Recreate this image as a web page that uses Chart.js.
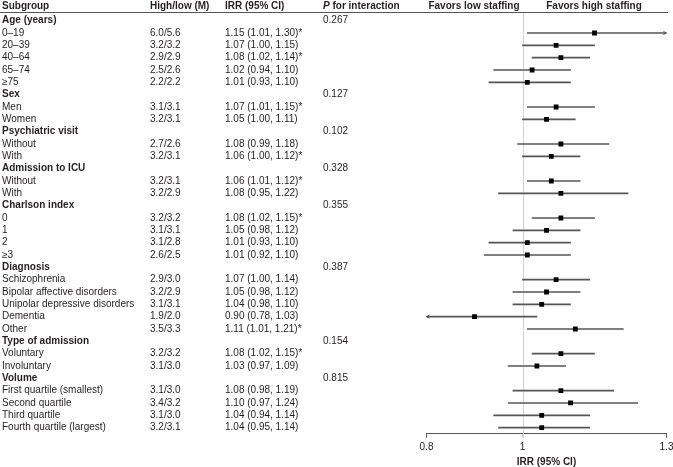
<!DOCTYPE html>
<html>
<head>
<meta charset="utf-8">
<script src="https://cdn.jsdelivr.net/npm/chart.js@4/dist/chart.umd.min.js"></script>
<style>
  html, body { margin: 0; padding: 0; background: #fff; }
  #wrap { width: 673px; height: 467px; }
</style>
</head>
<body>
<div id="wrap"><canvas id="c" width="673" height="467"></canvas></div>
<script>
// ---------- DATA ----------
const subgroups = [
  'Age (years)', '0–19', '20–39', '40–64', '65–74', '≥75',
  'Sex', 'Men', 'Women',
  'Psychiatric visit', 'Without', 'With',
  'Admission to ICU', 'Without', 'With',
  'Charlson index', '0', '1', '2', '≥3',
  'Diagnosis', 'Schizophrenia', 'Bipolar affective disorders', 'Unipolar depressive disorders', 'Dementia', 'Other',
  'Type of admission', 'Voluntary', 'Involuntary',
  'Volume', 'First quartile (smallest)', 'Second quartile', 'Third quartile', 'Fourth quartile (largest)'
];
const isGroupHeader = [
  true, false, false, false, false, false,
  true, false, false,
  true, false, false,
  true, false, false,
  true, false, false, false, false,
  true, false, false, false, false, false,
  true, false, false,
  true, false, false, false, false
];
const highLow = [
  '', '6.0/5.6', '3.2/3.2', '2.9/2.9', '2.5/2.6', '2.2/2.2',
  '', '3.1/3.1', '3.2/3.1',
  '', '2.7/2.6', '3.2/3.1',
  '', '3.2/3.1', '3.2/2.9',
  '', '3.2/3.2', '3.1/3.1', '3.1/2.8', '2.6/2.5',
  '', '2.9/3.0', '3.2/2.9', '3.1/3.1', '1.9/2.0', '3.5/3.3',
  '', '3.2/3.2', '3.1/3.0',
  '', '3.1/3.0', '3.4/3.2', '3.1/3.0', '3.2/3.1'
];
const irr = [
  null, 1.15, 1.07, 1.08, 1.02, 1.01,
  null, 1.07, 1.05,
  null, 1.08, 1.06,
  null, 1.06, 1.08,
  null, 1.08, 1.05, 1.01, 1.01,
  null, 1.07, 1.05, 1.04, 0.90, 1.11,
  null, 1.08, 1.03,
  null, 1.08, 1.10, 1.04, 1.04
];
const ciLower = [
  null, 1.01, 1.00, 1.02, 0.94, 0.93,
  null, 1.01, 1.00,
  null, 0.99, 1.00,
  null, 1.01, 0.95,
  null, 1.02, 0.98, 0.93, 0.92,
  null, 1.00, 0.98, 0.98, 0.78, 1.01,
  null, 1.02, 0.97,
  null, 0.98, 0.97, 0.94, 0.95
];
const ciUpper = [
  null, 1.30, 1.15, 1.14, 1.10, 1.10,
  null, 1.15, 1.11,
  null, 1.18, 1.12,
  null, 1.12, 1.22,
  null, 1.15, 1.12, 1.10, 1.10,
  null, 1.14, 1.12, 1.10, 1.03, 1.21,
  null, 1.15, 1.09,
  null, 1.19, 1.24, 1.14, 1.14
];
const significant = [
  false, true, false, true, false, false,
  false, true, false,
  false, false, true,
  false, true, false,
  false, true, false, false, false,
  false, false, false, false, false, true,
  false, true, false,
  false, false, false, false, false
];
const pInteraction = [
  '0.267', '', '', '', '', '',
  '0.127', '', '',
  '0.102', '', '',
  '0.328', '', '',
  '0.355', '', '', '', '',
  '0.387', '', '', '', '', '',
  '0.154', '', '',
  '0.815', '', '', '', ''
];
const xTicks = [0.8, 1, 1.3];
const xMin = 0.8, xMax = 1.3;
const headers = ['Subgroup', 'High/low (M)', 'IRR (95% CI)', 'for interaction', 'Favors low staffing', 'Favors high staffing'];
const axisTitle = 'IRR (95% CI)';

// ---------- DRAW ----------
const FONT = '"Liberation Sans", Arial, Helvetica, sans-serif';
const TXT = '#231f20';
const LINE = '#555555';

const fmt = v => v.toFixed(2);
const irrText = irr.map((v, i) => v == null ? '' :
  `${fmt(v)} (${fmt(ciLower[i])}, ${fmt(ciUpper[i])})` + (significant[i] ? '*' : ''));

const tablePlugin = {
  id: 'tablePlugin',
  afterDraw(chart) {
    const ctx = chart.ctx;
    const ys = chart.scales.y;
    const xs = chart.scales.x;
    ctx.save();
    // header line
    ctx.strokeStyle = LINE;
    ctx.lineWidth = 1;
    ctx.beginPath();
    ctx.moveTo(0, 12.5);
    ctx.lineTo(668, 12.5);
    ctx.stroke();

    // header texts
    ctx.fillStyle = TXT;
    ctx.textBaseline = 'middle';
    ctx.textAlign = 'left';
    const hy = 6.5;
    ctx.font = `bold 10px ${FONT}`;
    ctx.fillText(headers[0], 2, hy);
    ctx.fillText(headers[1], 150, hy);
    ctx.fillText(headers[2], 225, hy);
    ctx.font = `italic bold 10px ${FONT}`;
    ctx.fillText('P', 323, hy);
    const pw = ctx.measureText('P ').width;
    ctx.font = `bold 10px ${FONT}`;
    ctx.fillText(headers[3], 323 + pw, hy);
    ctx.textAlign = 'center';
    ctx.fillText(headers[4], 474, hy);
    ctx.fillText(headers[5], 594, hy);

    // rows
    ctx.textAlign = 'left';
    subgroups.forEach((s, i) => {
      const y = ys.getPixelForValue(i);
      ctx.font = (isGroupHeader[i] ? 'bold ' : '') + `10px ${FONT}`;
      ctx.fillText(s, 2, y);
      ctx.font = `10px ${FONT}`;
      if (highLow[i]) ctx.fillText(highLow[i], 150, y);
      if (irrText[i]) ctx.fillText(irrText[i], 225, y);
      if (pInteraction[i]) ctx.fillText(pInteraction[i], 323, y);
    });

    // arrows for truncated CIs
    ctx.strokeStyle = LINE;
    ctx.lineWidth = 1;
    subgroups.forEach((s, i) => {
      if (irr[i] == null) return;
      const y = ys.getPixelForValue(i);
      if (ciUpper[i] >= xMax) {
        const x = xs.getPixelForValue(xMax);
        ctx.beginPath();
        ctx.moveTo(x - 3, y - 1.5); ctx.lineTo(x, y); ctx.lineTo(x - 3, y + 1.5);
        ctx.stroke();
      }
      if (ciLower[i] < xMin) {
        const x = xs.getPixelForValue(xMin);
        ctx.beginPath();
        ctx.moveTo(x + 3, y - 1.5); ctx.lineTo(x, y); ctx.lineTo(x + 3, y + 1.5);
        ctx.stroke();
      }
    });
    ctx.restore();
  }
};

const refLinePlugin = {
  id: 'refLine',
  beforeDatasetsDraw(chart) {
    const ctx = chart.ctx;
    const x = Math.round(chart.scales.x.getPixelForValue(1)) + 0.5;
    ctx.save();
    ctx.strokeStyle = '#d4d4d4';
    ctx.lineWidth = 1;
    ctx.beginPath();
    ctx.moveTo(x, 13);
    ctx.lineTo(x, 438);
    ctx.stroke();
    ctx.restore();
  }
};

const rows = subgroups.map((_, i) => i);

new Chart(document.getElementById('c'), {
  type: 'bar',
  data: {
    labels: subgroups,
    datasets: [
      {
        type: 'bar',
        data: rows.map(i => irr[i] == null ? null : [ciLower[i], ciUpper[i]]),
        backgroundColor: LINE,
        borderWidth: 0,
        barThickness: 1,
        order: 2
      },
      {
        type: 'scatter',
        data: rows.map(i => ({ x: irr[i], y: i })),
        pointStyle: 'rect',
        pointRadius: 3.4,
        pointHoverRadius: 3.4,
        backgroundColor: '#000',
        borderColor: '#000',
        borderWidth: 0,
        order: 1
      }
    ]
  },
  options: {
    indexAxis: 'y',
    responsive: false,
    animation: false,
    events: [],
    layout: { padding: { left: 426.5, right: 6.5, top: 14.5, bottom: 0 } },
    plugins: { legend: { display: false }, tooltip: { enabled: false }, title: { display: false } },
    scales: {
      y: {
        type: 'category',
        display: false,
        offset: true,
        grid: { display: false }
      },
      x: {
        type: 'linear',
        position: 'bottom',
        min: xMin,
        max: xMax,
        afterBuildTicks: s => { s.ticks = xTicks.map(v => ({ value: v })); },
        afterFit: s => { s.height = 33.2; s.paddingLeft = 0; s.paddingRight = 0; },
        grid: {
          drawOnChartArea: false,
          drawTicks: true,
          tickLength: 4,
          tickColor: c => (c.tick && c.tick.value === 1) ? '#d4d4d4' : LINE,
          color: LINE
        },
        border: { display: true, color: LINE, width: 1 },
        ticks: {
          autoSkip: false,
          maxRotation: 0,
          padding: 3,
          color: TXT,
          font: { family: FONT, size: 10 },
          callback: v => String(v)
        },
        title: {
          display: true,
          text: axisTitle,
          color: TXT,
          font: { family: FONT, size: 10, weight: 'bold', lineHeight: 1 },
          padding: { top: 0, bottom: 0 }
        }
      }
    }
  },
  plugins: [refLinePlugin, tablePlugin]
});
</script>
</body>
</html>
